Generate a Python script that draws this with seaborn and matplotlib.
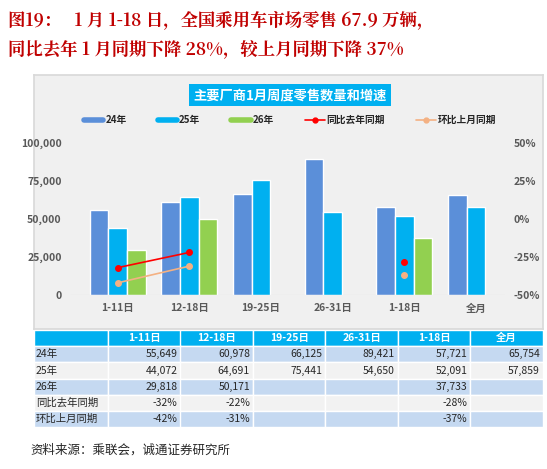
import matplotlib
matplotlib.use("Agg")
import matplotlib.pyplot as plt
import seaborn as sns
import numpy as np
import pandas as pd
from matplotlib.patches import Rectangle
from matplotlib.lines import Line2D

sns.set_theme(style="white")
plt.rcParams['font.family'] = ['Noto Sans CJK SC', 'DejaVu Sans']

periods = ["1-11日", "12-18日", "19-25日", "26-31日", "1-18日", "全月"]
v24 = [55649, 60978, 66125, 89421, 57721, 65754]
v25 = [44072, 64691, 75441, 54650, 52091, 57859]
v26 = [29818, 50171, np.nan, np.nan, 37733, np.nan]
yoy = [-32, -22, np.nan, np.nan, -28, np.nan]
mom = [-42, -31, np.nan, np.nan, -37, np.nan]
series = ["24年", "25年", "26年"]
colors = ["#5B8FD9", "#00B0F0", "#92D050"]

W, H = 547, 469
fig = plt.figure(figsize=(W/100, H/100), dpi=100)
fig.patch.set_facecolor("white")

def fx(x): return x / W
def fy(y): return 1 - y / H

# heading
fig.text(fx(8), fy(20), "图19：   1 月 1-18 日，全国乘用车市场零售 67.9 万辆，", color="#C00000",
         fontsize=12.5, fontweight="bold", va="center", family=['Noto Serif CJK SC', 'Noto Sans CJK SC', 'DejaVu Sans'])
fig.text(fx(8), fy(49), "同比去年 1 月同期下降 28%，较上月同期下降 37%", color="#C00000",
         fontsize=12.5, fontweight="bold", va="center", family=['Noto Serif CJK SC', 'Noto Sans CJK SC', 'DejaVu Sans'])

# panel background
bg = fig.add_axes([fx(34), fy(329), fx(543-34), fy(75)-fy(329)])
bg.set_facecolor("#F0F0F0"); bg.set_xticks([]); bg.set_yticks([])
for s in bg.spines.values(): s.set_color("#D9D9D9")
bg.set_zorder(0)

fig.text(fx(290), fy(95), "主要厂商1月周度零售数量和增速", color="white", fontsize=9.5, fontweight="bold",
         ha="center", va="center", bbox=dict(boxstyle="square,pad=0.3", fc="#00B0F0", ec="none"))

df = pd.DataFrame({"period": periods * 3,
                   "series": sum([[s] * 6 for s in series], []),
                   "value": v24 + v25 + v26})

ax = fig.add_axes([fx(70), fy(295), fx(505-70), fy(143)-fy(295)])
ax.set_zorder(2)
ax.patch.set_alpha(0)
sns.barplot(data=df, x="period", y="value", hue="series", palette=colors, ax=ax,
            width=0.78, saturation=1, legend=False)
ax.set_ylim(0, 100000)
ax.set_yticks([0, 25000, 50000, 75000, 100000])
ax.set_yticklabels([f"{v:,}" for v in [0, 25000, 50000, 75000, 100000]], fontsize=7.5,
                   fontweight="bold", color="#595959")
ax.set_xticks(range(6))
ax.set_xticklabels(periods, fontsize=7.5, fontweight="bold", color="#595959")
ax.set_xlabel(""); ax.set_ylabel("")
ax.tick_params(length=0, pad=6)
for s in ax.spines.values(): s.set_visible(False)
ax.axhline(0, color="#D9D9D9", lw=0.8)

ax2 = ax.twinx()
x = np.arange(6)
ax2.plot(x, yoy, color="#FF0000", marker="o", ms=4, lw=1.2)
ax2.plot(x, mom, color="#F4B183", marker="o", ms=4, lw=1.2)
ax2.set_ylim(-50, 50)
ax2.set_yticks([-50, -25, 0, 25, 50])
ax2.set_yticklabels([f"{v}%" for v in [-50, -25, 0, 25, 50]], fontsize=7.5, fontweight="bold", color="#595959")
ax2.tick_params(length=0, pad=6)
for s in ax2.spines.values(): s.set_visible(False)
ax2.grid(False); ax.grid(False)

handles = [Line2D([], [], color=colors[0], lw=4), Line2D([], [], color=colors[1], lw=4),
           Line2D([], [], color=colors[2], lw=4),
           Line2D([], [], color="#FF0000", marker="o", ms=3.5, lw=1.2),
           Line2D([], [], color="#F4B183", marker="o", ms=3.5, lw=1.2)]
fig.legend(handles, ["24年", "25年", "26年", "同比去年同期", "环比上月同期"], loc="center",
           bbox_to_anchor=(fx(290), fy(120)), ncol=5, frameon=False, fontsize=7,
           handlelength=2, columnspacing=3.2, handletextpad=0.2,
           prop={'weight': 'bold', 'size': 7})

# table
tb = fig.add_axes([fx(34), fy(427), fx(543-34), fy(330)-fy(427)])
tb.set_xlim(34, 543); tb.set_ylim(427, 330); tb.axis("off")
col_x = [34, 108] + [108 + 72.5 * i for i in range(1, 7)]
row_h = 16.2
header_top = 330
rows = [("24年", v24, "int"), ("25年", v25, "int"), ("26年", v26, "int"),
        ("同比去年同期", yoy, "pct"), ("环比上月同期", mom, "pct")]
# header
for i in range(7):
    tb.add_patch(Rectangle((col_x[i], header_top), col_x[i+1] - col_x[i], row_h,
                           fc="#00B0F0", ec="white", lw=1))
for j, p in enumerate(periods):
    tb.text((col_x[j+1] + col_x[j+2]) / 2, header_top + row_h / 2, p, color="white",
            fontsize=7.5, fontweight="bold", ha="center", va="center")
for r, (lab, vals, kind) in enumerate(rows):
    y0 = header_top + row_h * (r + 1)
    fc = "#C5D9F1" if r % 2 == 0 else "#F2F2F2"
    for i in range(7):
        tb.add_patch(Rectangle((col_x[i], y0), col_x[i+1] - col_x[i], row_h, fc=fc, ec="white", lw=1))
    tb.text(col_x[0] + 2, y0 + row_h / 2, lab, fontsize=7.5, ha="left", va="center", color="#262626")
    for j, v in enumerate(vals):
        if np.isnan(v): continue
        s = f"{int(v):,}" if kind == "int" else f"{int(v)}%"
        tb.text(col_x[j+2] - 3, y0 + row_h / 2, s, fontsize=7.5, ha="right", va="center", color="#262626")

fig.text(fx(30), fy(450), "资料来源：乘联会，诚通证券研究所", fontsize=9, va="center", color="#262626")

fig.savefig("out.png", dpi=100)
